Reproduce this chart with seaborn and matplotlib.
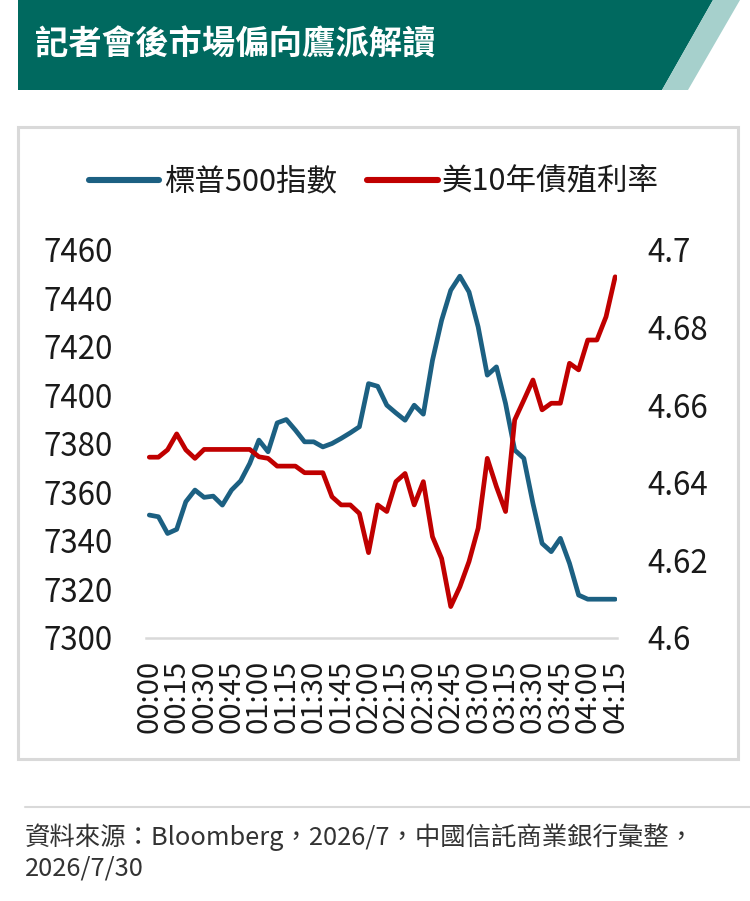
import numpy as np
import pandas as pd
import matplotlib
matplotlib.use("Agg")
import matplotlib.pyplot as plt
from matplotlib.patches import Polygon, Rectangle
from matplotlib.lines import Line2D
import seaborn as sns

# ---------------- data ----------------
title = "記者會後市場偏向鷹派解讀"
series_names = ["標普500指數", "美10年債殖利率"]
tick_labels = ["00:00", "00:15", "00:30", "00:45", "01:00", "01:15", "01:30", "01:45",
               "02:00", "02:15", "02:30", "02:45", "03:00", "03:15", "03:30", "03:45",
               "04:00", "04:15"]
spx = [7350.7, 7350.0, 7343.1, 7344.8, 7356.2, 7361.0, 7358.0, 7358.5, 7354.8, 7361.0,
       7364.8, 7372.0, 7381.6, 7376.8, 7388.7, 7390.1, 7385.7, 7380.9, 7380.9, 7378.8,
       7380.2, 7382.3, 7384.6, 7387.1, 7404.9, 7403.8, 7396.0, 7392.8, 7389.8, 7396.0,
       7392.3, 7414.5, 7431.0, 7443.4, 7449.2, 7442.7, 7428.3, 7408.4, 7411.8, 7396.7,
       7377.5, 7374.1, 7355.5, 7339.0, 7335.6, 7341.1, 7330.8, 7317.7, 7316.0, 7316.0,
       7316.0, 7316.0]
yld = [4.6466, 4.6466, 4.6485, 4.6526, 4.6485, 4.6463, 4.6486, 4.6486, 4.6486, 4.6486,
       4.6486, 4.6486, 4.6467, 4.6463, 4.6443, 4.6443, 4.6443, 4.6426, 4.6426, 4.6426,
       4.6364, 4.6343, 4.6343, 4.6321, 4.6220, 4.6343, 4.6326, 4.6403, 4.6424, 4.6343,
       4.6403, 4.6261, 4.6205, 4.6081, 4.6132, 4.6197, 4.6283, 4.6463, 4.6390, 4.6326,
       4.6562, 4.6613, 4.6665, 4.6588, 4.6605, 4.6605, 4.6708, 4.6691, 4.6768, 4.6768,
       4.6828, 4.6931]
left_ticks = [7300, 7320, 7340, 7360, 7380, 7400, 7420, 7440, 7460]
right_ticks = [4.6, 4.62, 4.64, 4.66, 4.68, 4.7]
right_tick_labels = ["4.6", "4.62", "4.64", "4.66", "4.68", "4.7"]
source_line1 = "資料來源：Bloomberg，2026/7，中國信託商業銀行彙整，"
source_line2 = "2026/7/30"

df = pd.DataFrame({"idx": np.arange(len(spx)), "spx": spx, "yld": yld})

# ---------------- style ----------------
sns.set_theme(style="white")
plt.rcParams["font.family"] = ["Noto Sans CJK TC", "DejaVu Sans"]

W, H = 750, 901
fig = plt.figure(figsize=(W / 100, H / 100), dpi=100)
fig.patch.set_facecolor("white")

def fx(px):
    return px / W

def fy(py):
    return 1 - py / H

BLUE = "#1C6082"
RED = "#C00000"
GRID = "#D9D9D9"
TXT = "#1a1a1a"

# title bar
fig.patches.append(Polygon([(fx(18), fy(0)), (fx(713), fy(0)), (fx(662), fy(90)), (fx(18), fy(90))],
                           closed=True, transform=fig.transFigure, facecolor="#00695F",
                           edgecolor="none", zorder=-5))
fig.patches.append(Polygon([(fx(713), fy(0)), (fx(740), fy(0)), (fx(688), fy(90)), (fx(662), fy(90))],
                           closed=True, transform=fig.transFigure, facecolor="#A6D0CC",
                           edgecolor="none", zorder=-5))
fig.text(fx(35), fy(45), title, color="white", fontsize=24, fontweight="bold",
         ha="left", va="center")

# chart box
fig.patches.append(Rectangle((fx(18), fy(759)), fx(738) - fx(18), fy(127) - fy(759),
                             transform=fig.transFigure, facecolor="none",
                             edgecolor=GRID, linewidth=2.2, zorder=-5))

# axes
ax = fig.add_axes([fx(146), fy(638), fx(617) - fx(146), fy(250) - fy(638)])
ax.set_facecolor("none")
sns.lineplot(data=df, x="idx", y="spx", ax=ax, color=BLUE, linewidth=3.4, legend=False)
ax2 = ax.twinx()
ax2.set_facecolor("none")
sns.lineplot(data=df, x="idx", y="yld", ax=ax2, color=RED, linewidth=3.4, legend=False)

ax.set_xlim(-0.36, 51.2)
ax.set_ylim(7300, 7460)
ax2.set_ylim(4.6, 4.7)

ax.set_yticks(left_ticks)
ax.set_yticklabels([str(t) for t in left_ticks])
ax2.set_yticks(right_ticks)
ax2.set_yticklabels(right_tick_labels)

ax.set_xticks(np.arange(0, len(spx), 3))
ax.set_xticklabels(tick_labels, rotation=90)
ax.set_xticks([-0.36, 7.6, 15.55, 23.5, 31.45, 39.4, 47.35], minor=True)

ax.tick_params(axis="x", which="major", length=0, pad=16, labelsize=21, labelcolor=TXT)
ax.tick_params(axis="x", which="minor", length=6, width=1.6, color=GRID, direction="out")
ax.tick_params(axis="y", length=0, pad=24, labelsize=22.5, labelcolor=TXT)
ax2.tick_params(axis="y", length=0, pad=22, labelsize=22.5, labelcolor=TXT)

for s in ["top", "left", "right"]:
    ax.spines[s].set_visible(False)
for s in ["top", "left", "right", "bottom"]:
    ax2.spines[s].set_visible(False)
ax.spines["bottom"].set_color(GRID)
ax.spines["bottom"].set_linewidth(1.8)
ax.set_xlabel("")
ax.set_ylabel("")
ax2.set_ylabel("")
ax.grid(False)
ax2.grid(False)

handles = [Line2D([0], [0], color=BLUE, linewidth=4.4),
           Line2D([0], [0], color=RED, linewidth=4.4)]
fig.legend(handles, series_names, loc="center", bbox_to_anchor=(fx(374), fy(182)),
           ncol=2, frameon=False, fontsize=22, handlelength=2.3, handletextpad=0.15,
           columnspacing=1.0, labelcolor=TXT)

# footer
fig.add_artist(Line2D([fx(25), fx(750)], [fy(807), fy(807)], transform=fig.transFigure,
                      color=GRID, linewidth=1.5))
fig.text(fx(25), fy(837), source_line1, fontsize=18.3, color="#333333", ha="left", va="center")
fig.text(fx(25), fy(868), source_line2, fontsize=18.3, color="#333333", ha="left", va="center")

fig.savefig("out.png", dpi=100)
